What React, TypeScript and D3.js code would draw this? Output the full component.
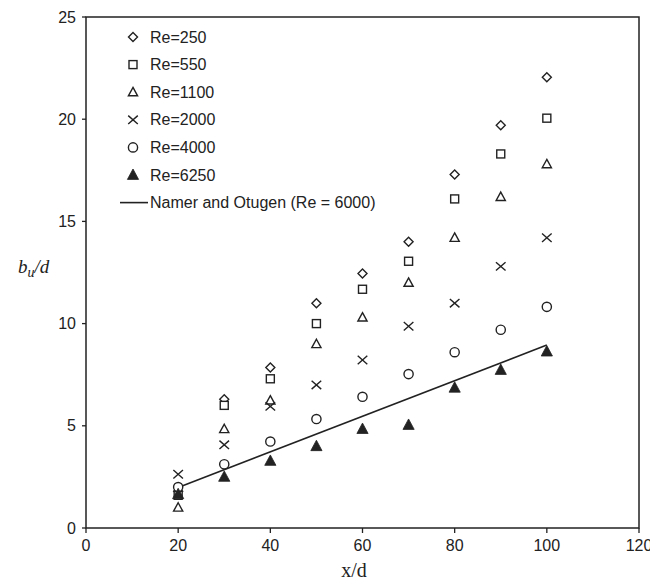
import React from "react";
import * as d3 from "d3";

const xValues = [20, 30, 40, 50, 60, 70, 80, 90, 100];
const re250 = [1.8, 6.3, 7.85, 11.0, 12.45, 14.0, 17.3, 19.7, 22.05];
const re550 = [1.6, 6.0, 7.3, 10.0, 11.68, 13.05, 16.1, 18.3, 20.05];
const re1100 = [1.0, 4.84, 6.24, 9.0, 10.3, 12.0, 14.2, 16.2, 17.8];
const re2000 = [2.63, 4.07, 5.95, 7.0, 8.22, 9.87, 11.0, 12.8, 14.2];
const re4000 = [2.0, 3.12, 4.23, 5.33, 6.42, 7.53, 8.6, 9.7, 10.82];
const re6250 = [1.65, 2.5, 3.28, 4.0, 4.84, 5.04, 6.86, 7.73, 8.63];
const lineX = [20, 100];
const lineY = [1.98, 8.95];

const seriesNames = ["Re=250", "Re=550", "Re=1100", "Re=2000", "Re=4000", "Re=6250"];
const seriesValues = [re250, re550, re1100, re2000, re4000, re6250];
const seriesShapes = ["diamond", "square", "triangle", "cross", "circle", "filledTriangle"];
const lineLabel = "Namer and Otugen (Re = 6000)";

const xTicks = [0, 20, 40, 60, 80, 100, 120];
const yTicks = [0, 5, 10, 15, 20, 25];

const W = 650;
const H = 581;
const left = 86;
const right = 639;
const top = 17;
const bottom = 528;
const ink = "#222";

function Marker({ shape, x, y }: { shape: string; x: number; y: number }) {
  const t = `translate(${x},${y})`;
  const sw = 1.4;
  switch (shape) {
    case "diamond":
      return <path transform={t} d="M0,-4.5L4.5,0L0,4.5L-4.5,0Z" fill="white" stroke={ink} strokeWidth={sw} />;
    case "square":
      return <rect transform={t} x={-4} y={-4} width={8} height={8} fill="white" stroke={ink} strokeWidth={sw} />;
    case "triangle":
      return <path transform={t} d="M0,-4.8L4.6,3.6L-4.6,3.6Z" fill="white" stroke={ink} strokeWidth={sw} />;
    case "cross":
      return <path transform={t} d="M-4.8,-4.2L4.8,4.2M-4.8,4.2L4.8,-4.2" fill="none" stroke={ink} strokeWidth={sw} />;
    case "circle":
      return <circle transform={t} r={4.6} fill="white" stroke={ink} strokeWidth={sw} />;
    case "filledTriangle":
      return <path transform={t} d="M0,-6L5.6,4.4L-5.6,4.4Z" fill={ink} stroke={ink} strokeWidth={0.8} />;
    default:
      return null;
  }
}

export default function App() {
  const x = d3.scaleLinear().domain([0, 120]).range([left, right]);
  const y = d3.scaleLinear().domain([0, 25]).range([bottom, top]);
  const line = d3
    .line<number>()
    .x((_, i) => x(lineX[i]))
    .y((d) => y(d));

  const legendX = 133;
  const legendY0 = 37;
  const legendStep = 27.6;
  const font = "'Liberation Sans', Arial, sans-serif";

  return (
    <svg width={W} height={H} style={{ position: "absolute", left: 0, top: 0, background: "white" }}>
      <rect x={0} y={0} width={W} height={H} fill="white" />
      {/* frame */}
      <rect x={left} y={top} width={right - left} height={bottom - top} fill="none" stroke={ink} strokeWidth={1.5} />
      {/* y ticks */}
      {yTicks.map((t) => (
        <g key={"y" + t}>
          <line x1={left - 4} x2={left} y1={y(t)} y2={y(t)} stroke={ink} strokeWidth={1.3} />
          <text x={left - 10} y={y(t)} dy="0.35em" textAnchor="end" fontFamily={font} fontSize={16} fill={ink}>
            {t}
          </text>
        </g>
      ))}
      {/* x ticks */}
      {xTicks.map((t) => (
        <g key={"x" + t}>
          <line x1={x(t)} x2={x(t)} y1={bottom} y2={bottom + 5} stroke={ink} strokeWidth={1.3} />
          <text x={x(t)} y={bottom + 23} textAnchor="middle" fontFamily={font} fontSize={16} fill={ink}>
            {t}
          </text>
        </g>
      ))}
      {/* axis titles */}
      <text x={354} y={577} textAnchor="middle" fontFamily="'Liberation Serif', 'Times New Roman', serif" fontSize={20} fill={ink}>
        x/d
      </text>
      <text x={18} y={273} fontFamily="'Liberation Serif', 'Times New Roman', serif" fontSize={19} fill={ink}>
        <tspan fontStyle="italic">b</tspan>
        <tspan fontStyle="italic" fontSize={14} dy={4}>u</tspan>
        <tspan fontStyle="italic" dy={-4}>/d</tspan>
      </text>
      {/* line */}
      <path d={line(lineY) || ""} fill="none" stroke={ink} strokeWidth={1.6} />
      {/* points */}
      {seriesValues.map((vals, si) =>
        vals.map((v, i) => <Marker key={si + "-" + i} shape={seriesShapes[si]} x={x(xValues[i])} y={y(v)} />)
      )}
      {/* legend */}
      {seriesNames.map((name, i) => (
        <g key={name}>
          <Marker shape={seriesShapes[i]} x={legendX} y={legendY0 + i * legendStep} />
          <text x={150} y={legendY0 + i * legendStep} dy="0.35em" fontFamily={font} fontSize={16} fill={ink}>
            {name}
          </text>
        </g>
      ))}
      <line x1={120} x2={148} y1={legendY0 + 6 * legendStep} y2={legendY0 + 6 * legendStep} stroke={ink} strokeWidth={1.6} />
      <text x={150} y={legendY0 + 6 * legendStep} dy="0.35em" fontFamily={font} fontSize={16} fill={ink}>
        {lineLabel}
      </text>
    </svg>
  );
}
